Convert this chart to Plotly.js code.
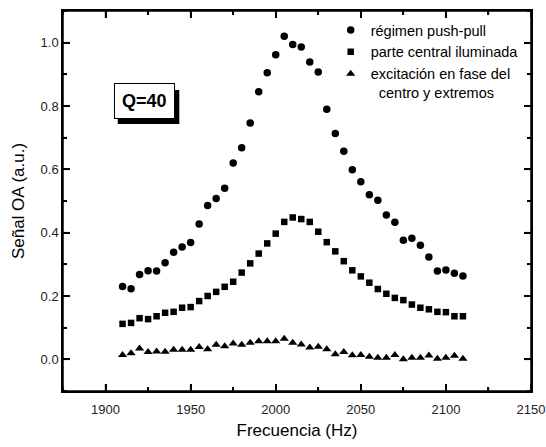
<!DOCTYPE html>
<html><head><meta charset="utf-8">
<script src="https://cdn.plot.ly/plotly-3.0.1.min.js"></script>
<style>html,body{margin:0;padding:0;background:#fff}#chart{width:546px;height:447px}</style>
</head><body><div id="chart"></div>
<script>
const freq = [1910,1915,1920,1925,1930,1935,1940,1945,1950,1955,1960,1965,1970,1975,1980,1985,1990,1995,2000,2005,2010,2015,2020,2025,2030,2035,2040,2045,2050,2055,2060,2065,2070,2075,2080,2085,2090,2095,2100,2105,2110];
const pushPull = [0.230,0.223,0.268,0.280,0.279,0.305,0.338,0.355,0.369,0.427,0.486,0.508,0.540,0.620,0.668,0.746,0.845,0.905,0.962,1.020,0.994,0.986,0.939,0.907,0.790,0.713,0.657,0.599,0.561,0.520,0.502,0.456,0.433,0.376,0.382,0.360,0.323,0.279,0.282,0.272,0.263];
const centralIlum = [0.112,0.115,0.130,0.127,0.136,0.147,0.150,0.163,0.165,0.184,0.200,0.213,0.229,0.245,0.274,0.303,0.334,0.366,0.397,0.434,0.448,0.443,0.434,0.403,0.370,0.341,0.310,0.281,0.262,0.242,0.222,0.207,0.194,0.187,0.173,0.163,0.158,0.150,0.149,0.136,0.136];
const enFase = [0.014,0.019,0.034,0.023,0.025,0.024,0.030,0.030,0.030,0.039,0.032,0.046,0.041,0.050,0.046,0.052,0.057,0.057,0.057,0.065,0.052,0.047,0.037,0.040,0.032,0.016,0.023,0.013,0.014,0.008,0.005,0.005,0.014,0.000,0.005,0.005,0.012,0.002,0.005,0.011,0.002];
const names = ["régimen push-pull","parte central iluminada","excitación en fase del<br>\u00a0\u00a0centro y extremos"];
const xMajorTicks = [1900,1950,2000,2050,2100,2150];
const xMinorTicks = [1875,1925,1975,2025,2075,2125];
const yMajorTicks = [0,0.2,0.4,0.6,0.8,1.0];
const yMinorTicks = [-0.1,0.1,0.3,0.5,0.7,0.9,1.1];

const F = "Arial, 'Liberation Sans', sans-serif";
const traces = [
  {x:freq,y:pushPull,name:names[0],mode:'markers',type:'scatter',marker:{symbol:'circle',size:7.5,color:'#000'}},
  {x:freq,y:centralIlum,name:names[1],mode:'markers',type:'scatter',marker:{symbol:'square',size:6.5,color:'#000'}},
  {x:freq,y:enFase,name:names[2],mode:'markers',type:'scatter',marker:{symbol:'triangle-up',size:8,color:'#000'}}
];
function mkAxis(extra){
  return Object.assign({
    showline:true, linecolor:'#000', linewidth:1.5, mirror:'ticks',
    ticks:'inside', ticklen:7, tickwidth:1.5, tickcolor:'#000',
    showgrid:false, zeroline:false,
    tickfont:{family:F,size:13,color:'#222'}
  }, extra);
}
// frame and tick marks as shapes (tick values from the arrays above)
const W = 468, H = 380, majLen = 7, minLen = 4;
const shapes = [
  {type:'rect',xref:'paper',yref:'paper',x0:0,x1:1,y0:0,y1:1,line:{color:'#000',width:1.5},fillcolor:'rgba(0,0,0,0)'}
];
function addX(vals,len){
  vals.forEach(v=>{
    shapes.push({type:'line',xref:'x',yref:'paper',x0:v,x1:v,y0:0,y1:len/H,line:{color:'#000',width:1.5}});
    shapes.push({type:'line',xref:'x',yref:'paper',x0:v,x1:v,y0:1,y1:1-len/H,line:{color:'#000',width:1.5}});
  });
}
function addY(vals,len){
  vals.forEach(v=>{
    shapes.push({type:'line',xref:'paper',yref:'y',x0:0,x1:len/W,y0:v,y1:v,line:{color:'#000',width:1.5}});
    shapes.push({type:'line',xref:'paper',yref:'y',x0:1,x1:1-len/W,y0:v,y1:v,line:{color:'#000',width:1.5}});
  });
}
addX(xMajorTicks,majLen); addX(xMinorTicks,minLen);
addY(yMajorTicks,majLen); addY(yMinorTicks,minLen);
// shadow of the Q=40 box
shapes.push({type:'rect',xref:'paper',yref:'paper',x0:0.117,x1:0.2485,y0:0.7026,y1:0.792,fillcolor:'#000',line:{width:0}});

const layout = {
  width:546, height:447,
  margin:{l:63,r:15,t:11,b:56},
  paper_bgcolor:'#fff', plot_bgcolor:'#fff',
  font:{family:F,color:'#000'},
  showlegend:true,
  legend:{x:0.572,y:0.992,xanchor:'left',yanchor:'top',bgcolor:'rgba(0,0,0,0)',font:{family:F,size:14.5,color:'#000'},valign:'top',tracegroupgap:0},
  xaxis:mkAxis({range:[1875,2150],tickmode:'array',tickvals:xMajorTicks,
    minor:{ticks:'inside',ticklen:4,tickwidth:1.5,tickcolor:'#000',tickmode:'array',tickvals:xMinorTicks},
    ticklabelstandoff:6,
    title:{text:'Frecuencia (Hz)',font:{family:F,size:17,color:'#000'},standoff:8}}),
  yaxis:mkAxis({range:[-0.1,1.1],tickmode:'array',tickvals:yMajorTicks,tickformat:'.1f',
    minor:{ticks:'inside',ticklen:4,tickwidth:1.5,tickcolor:'#000',tickmode:'array',tickvals:yMinorTicks},
    title:{text:'Señal OA (a.u.)',font:{family:F,size:17,color:'#000'},standoff:12}}),
  shapes:shapes,
  annotations:[
    {xref:'paper',yref:'paper',x:0.174,y:0.762,text:'<b>Q=40</b>',showarrow:false,font:{family:F,size:18,color:'#000'},xanchor:'center',yanchor:'middle',bgcolor:'#fff',bordercolor:'#000',borderwidth:1,borderpad:7}
  ]
};
Plotly.newPlot('chart',traces,layout,{displayModeBar:false});
</script></body></html>
